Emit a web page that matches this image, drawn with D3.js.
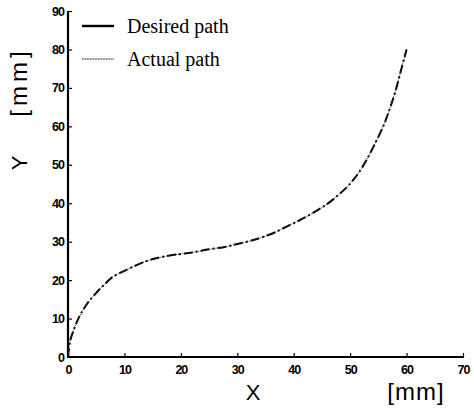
<!DOCTYPE html>
<html>
<head>
<meta charset="utf-8">
<script src="https://cdn.jsdelivr.net/npm/d3@7"></script>
<style>
	body { margin: 0; background: #fff; }
	svg { display: block; }
</style>
</head>
<body>
<div id="chart"></div>
<script>
let width = 474,
	height = 410;

// path data [mm]
let pathX = [0, 0.35, 1, 2, 3, 4, 6, 8, 10, 12, 14, 16, 18, 20, 22, 25, 28, 30, 33, 36, 39, 42, 45, 47, 50, 52, 54, 56, 57, 58, 59, 60];
let desiredY = [0, 4, 7, 10.5, 13, 15, 18.2, 20.9, 22.4, 23.8, 25, 25.8, 26.4, 26.8, 27.2, 28, 28.7, 29.4, 30.5, 32, 34.1, 36.3, 38.9, 41, 45.1, 49, 54.3, 60.5, 64.5, 69, 74.5, 80];
let actualY = [0, 4, 7, 10.5, 13, 15, 18.2, 20.9, 22.4, 23.8, 25, 25.8, 26.4, 26.8, 27.2, 28, 28.7, 29.4, 30.5, 32, 34.1, 36.3, 38.9, 41, 45.1, 49, 54.3, 60.5, 64.5, 69, 74.5, 80];
let xTicks = [0, 10, 20, 30, 40, 50, 60, 70];
let yTicks = [0, 10, 20, 30, 40, 50, 60, 70, 80, 90];
let legendNames = ['Desired path', 'Actual path'];

let svg = d3.select('#chart').append('svg').attr('width', width).attr('height', height);

let x = d3.scaleLinear().domain([0, 70]).range([68, 463]);
let y = d3.scaleLinear().domain([0, 90]).range([357, 11]);

// axes
let xAxis = svg.append('g')
	.attr('transform', `translate(0, ${y(0)})`)
	.call(d3.axisBottom(x).tickValues(xTicks).tickSize(-4).tickPadding(8).tickSizeOuter(0));
let yAxis = svg.append('g')
	.attr('transform', `translate(${x(0)}, 0)`)
	.call(d3.axisLeft(y).tickValues(yTicks).tickSize(-4).tickPadding(4).tickSizeOuter(0));

[xAxis, yAxis].forEach(a => {
	a.attr('font-family', null).attr('font-size', null);
	a.select('.domain').attr('stroke', '#000').attr('stroke-width', 2.2);
	a.selectAll('.tick line').attr('stroke', '#000').attr('stroke-width', 1.2);
	a.selectAll('.tick text')
		.attr('fill', '#000')
		.attr('font-family', '"Liberation Sans", Arial, sans-serif')
		.attr('font-weight', 700)
		.attr('font-size', 12.5)
		.attr('letter-spacing', -1);
});
xAxis.select('.domain').attr('d', `M${x(0)},0H${x(70) + 1}`);
yAxis.select('.domain').attr('d', `M0,${y(90)}V${y(0) + 1}`);

// curves
let line = d3.line().x(d => x(d[0])).y(d => y(d[1])).curve(d3.curveCatmullRom.alpha(0.5));

svg.append('path')
	.datum(pathX.map((v, i) => [v, desiredY[i]]))
	.attr('d', line)
	.attr('fill', 'none')
	.attr('stroke', '#000')
	.attr('stroke-width', 2)
	.attr('stroke-dasharray', '9,3,2,3');

svg.append('path')
	.datum(pathX.map((v, i) => [v, actualY[i]]))
	.attr('d', line)
	.attr('fill', 'none')
	.attr('stroke', '#333')
	.attr('stroke-width', 1)
	.attr('stroke-dasharray', '1,1');

// legend
let legend = svg.append('g').attr('transform', 'translate(82, 26)');
legendNames.forEach((name, i) => {
	let g = legend.append('g').attr('transform', `translate(0, ${i * 33})`);
	g.append('line')
		.attr('x1', 0).attr('x2', 32)
		.attr('stroke', '#000')
		.attr('stroke-width', i === 0 ? 2.4 : 1.2)
		.attr('stroke-dasharray', i === 0 ? null : '1,0.6');
	g.append('text')
		.attr('x', 45).attr('y', 7)
		.style('font-family', '"Liberation Serif", "Times New Roman", serif')
		.style('font-size', '20px')
		.attr('fill', '#000')
		.text(name);
});

// axis titles
let titleFont = '"Liberation Sans", Arial, sans-serif';
svg.append('text')
	.attr('x', 253).attr('y', 400)
	.attr('text-anchor', 'middle')
	.style('font-family', titleFont).style('font-size', '22px')
	.text('X');
svg.append('text')
	.attr('x', 416).attr('y', 400)
	.attr('text-anchor', 'middle')
	.style('font-family', titleFont).style('font-size', '24px')
	.style('letter-spacing', '1px')
	.text('[mm]');
svg.append('text')
	.attr('transform', 'translate(27, 163) rotate(-90)')
	.attr('text-anchor', 'middle')
	.style('font-family', titleFont).style('font-size', '22px')
	.text('Y');
svg.append('text')
	.attr('transform', 'translate(27, 82) rotate(-90)')
	.attr('text-anchor', 'middle')
	.style('font-family', titleFont).style('font-size', '24px')
	.style('letter-spacing', '4px')
	.text('[mm]');
</script>
</body>
</html>
